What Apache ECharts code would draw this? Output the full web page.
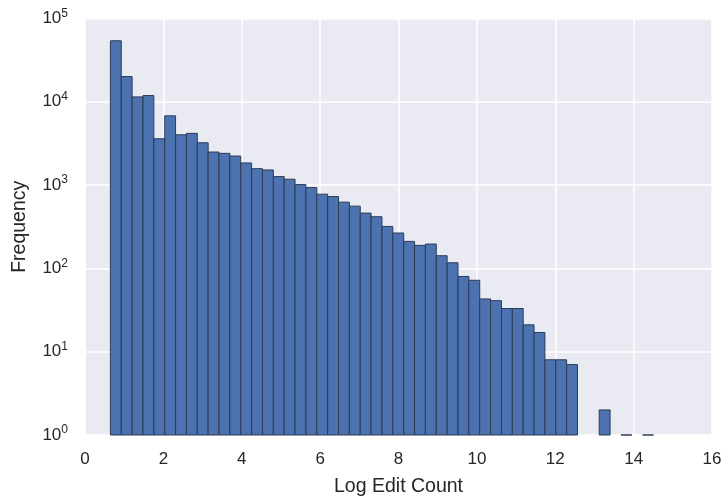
<!DOCTYPE html>
<html>
<head>
<meta charset="utf-8">
<script src="https://cdn.jsdelivr.net/npm/echarts@6/dist/echarts.min.js"></script>
<style>
  html, body { margin: 0; padding: 0; background: #fff; }
  #chart { width: 725px; height: 502px; }
</style>
</head>
<body>
<div id="chart"></div>
<script>
// histogram bins: 50 equal bins starting at binStart
const binStart = 0.648
const binWidth = 0.2772
const counts = [
  54000, 20100, 11450, 11900, 3600, 6780, 4020, 4180, 3220, 2495,
  2405, 2233, 1844, 1575, 1520, 1265, 1177, 1014, 933, 778,
  729, 624, 559, 461, 417, 319, 266, 211, 189, 196,
  142, 117, 80, 72, 43, 41, 33, 33, 21, 17,
  8, 8, 7, 0, 0, 2, 0, 1, 0, 1
]
const xTicks = [0, 2, 4, 6, 8, 10, 12, 14, 16]
const yTicks = [1, 10, 100, 1000, 10000, 100000]

// [left edge, right edge, count], empty bins are dropped (log axis)
const bins = []
counts.forEach((c, i) => {
  if (c > 0) bins.push([binStart + i * binWidth, binStart + (i + 1) * binWidth, c])
})

const myChart = echarts.init(document.getElementById('chart'))
const option = {
  animation: false,
  textStyle: { fontFamily: 'Liberation Sans' },
  grid: {
    left: 85,
    right: 13,
    top: 18.5,
    bottom: 64.5,
    show: true,
    backgroundColor: '#eaeaf2',
    borderWidth: 0
  },
  xAxis: {
    type: 'value',
    min: xTicks[0],
    max: xTicks[xTicks.length - 1],
    interval: 2,
    name: 'Log Edit Count',
    nameLocation: 'middle',
    nameGap: 42,
    nameTextStyle: { fontSize: 19.5, color: '#262626' },
    axisLine: { show: false },
    axisTick: { show: false },
    axisLabel: { fontSize: 17, color: '#262626', margin: 16 },
    splitLine: { show: true, lineStyle: { color: '#ffffff', width: 1.5 } }
  },
  yAxis: {
    type: 'log',
    logBase: 10,
    min: yTicks[0],
    max: yTicks[yTicks.length - 1],
    name: 'Frequency',
    nameLocation: 'middle',
    nameGap: 55,
    nameTextStyle: { fontSize: 19.5, color: '#262626' },
    axisLine: { show: false },
    axisTick: { show: false },
    axisLabel: {
      fontSize: 17,
      color: '#262626',
      margin: 17,
      formatter: v => {
        const e = Math.round(Math.log10(v))
        return '{b|10}{s|' + e + '}'
      },
      rich: {
        b: { fontSize: 17, color: '#262626', fontFamily: 'Liberation Sans' },
        s: { fontSize: 12, color: '#262626', fontFamily: 'Liberation Sans', padding: [0, 0, 10, 0] }
      }
    },
    splitLine: { show: true, lineStyle: { color: '#ffffff', width: 1.5 } }
  },
  series: [
    {
      type: 'custom',
      encode: { x: [0, 1], y: 2 },
      data: bins,
      renderItem: (params, api) => {
        const top = api.coord([api.value(0), api.value(2)])
        const bottom = api.coord([api.value(1), yTicks[0]])
        return {
          type: 'rect',
          shape: {
            x: top[0],
            y: top[1],
            width: bottom[0] - top[0],
            height: bottom[1] - top[1]
          },
          style: {
            fill: '#4c72b0',
            stroke: '#2c3b57',
            lineWidth: 1
          }
        }
      }
    }
  ]
}
option && myChart.setOption(option)
</script>
</body>
</html>
